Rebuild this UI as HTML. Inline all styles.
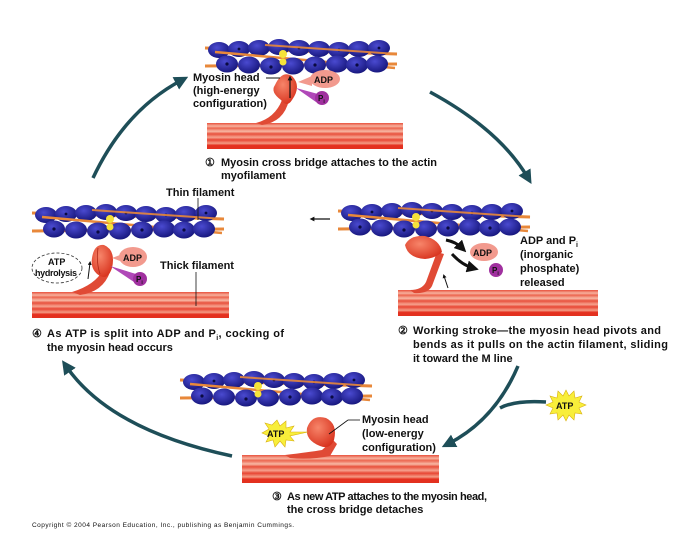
<!DOCTYPE html>
<html><head><meta charset="utf-8"><style>
html,body{margin:0;padding:0;background:#fff}
svg{display:block}
text{font-family:"Liberation Sans",sans-serif;font-weight:bold;fill:#111}
</style></head><body>
<svg width="674" height="548" viewBox="0 0 674 548" xmlns="http://www.w3.org/2000/svg">
<defs>
<radialGradient id="bl" cx="0.4" cy="0.35" r="0.7"><stop offset="0" stop-color="#4a4ad0"/><stop offset="1" stop-color="#15157a"/></radialGradient>
<radialGradient id="hd" cx="0.4" cy="0.35" r="0.7"><stop offset="0" stop-color="#f7856a"/><stop offset="1" stop-color="#d8331e"/></radialGradient>
<linearGradient id="tk" x1="0" y1="0" x2="0" y2="1">
<stop offset="0" stop-color="#e8503c"/><stop offset="0.12" stop-color="#f7b29e"/><stop offset="0.2" stop-color="#ec6650"/><stop offset="0.32" stop-color="#f8b8a4"/><stop offset="0.42" stop-color="#e8503c"/><stop offset="0.55" stop-color="#f6a28e"/><stop offset="0.65" stop-color="#e84634"/><stop offset="0.78" stop-color="#f49a84"/><stop offset="0.86" stop-color="#e5301f"/><stop offset="1" stop-color="#e2311f"/></linearGradient>
<g id="actin">
<line x1="0" y1="8" x2="192" y2="14" stroke="#e8883a" stroke-width="3"/>
<g fill="url(#bl)">
<ellipse cx="14" cy="10" rx="11" ry="8"/><ellipse cx="34" cy="9" rx="11" ry="8"/><ellipse cx="54" cy="8" rx="11" ry="8"/><ellipse cx="74" cy="7" rx="11" ry="8"/><ellipse cx="94" cy="8" rx="11" ry="8"/><ellipse cx="114" cy="9" rx="11" ry="8"/><ellipse cx="134" cy="10" rx="11" ry="8"/><ellipse cx="154" cy="9" rx="11" ry="8"/><ellipse cx="174" cy="8" rx="11" ry="8"/>
</g>
<line x1="0" y1="26" x2="192" y2="24" stroke="#e8883a" stroke-width="3"/>
<line x1="10" y1="12" x2="190" y2="28" stroke="#e8883a" stroke-width="2.5"/>
<g fill="url(#bl)">
<ellipse cx="22" cy="24" rx="11" ry="8.5"/><ellipse cx="44" cy="25" rx="11" ry="8.5"/><ellipse cx="66" cy="26" rx="11" ry="8.5"/><ellipse cx="88" cy="26" rx="11" ry="8.5"/><ellipse cx="110" cy="25" rx="11" ry="8.5"/><ellipse cx="132" cy="24" rx="11" ry="8.5"/><ellipse cx="152" cy="25" rx="11" ry="8.5"/><ellipse cx="172" cy="24" rx="11" ry="8.5"/>
</g>
<g fill="#0a0a40"><circle cx="22" cy="24" r="1.6"/><circle cx="66" cy="27" r="1.6"/><circle cx="110" cy="25" r="1.6"/><circle cx="152" cy="25" r="1.6"/><circle cx="34" cy="9" r="1.4"/><circle cx="94" cy="8" r="1.4"/><circle cx="134" cy="10" r="1.4"/><circle cx="174" cy="8" r="1.4"/></g>
<line x1="60" y1="5" x2="192" y2="14" stroke="#e8883a" stroke-width="2" opacity="0.9"/>
<circle cx="78" cy="14" r="4" fill="#f5e23a"/><circle cx="78" cy="22" r="3.5" fill="#f5e23a"/>
</g>
<marker id="ar" viewBox="0 0 10 10" refX="5" refY="5" markerWidth="4" markerHeight="4" orient="auto"><path d="M0,0L10,5L0,10z" fill="#1e4e58"/></marker>
<marker id="ab" viewBox="0 0 10 10" refX="5" refY="5" markerWidth="4" markerHeight="4" orient="auto"><path d="M0,0L10,5L0,10z" fill="#111"/></marker>
</defs>

<!-- cycle arrows -->
<g fill="none" stroke="#1e4e58" stroke-width="3.5">
<path d="M93,178 Q125,110 182,80" marker-end="url(#ar)"/>
<path d="M430,92 Q500,130 528,178" marker-end="url(#ar)"/>
<path d="M518,366 Q495,420 448,444" marker-end="url(#ar)"/>
<path d="M546,402 Q515,400 500,408"/>
<path d="M232,456 Q110,430 66,366" marker-end="url(#ar)"/>
</g>

<!-- Panel 1 -->
<use href="#actin" transform="translate(205,40)"/>
<rect x="207" y="123" width="196" height="26" fill="url(#tk)"/>
<path d="M256,123 Q275,118 282,100 L289,100 Q284,122 262,125z" fill="#e04a35"/>
<path d="M275,85 Q282,70 292,76 Q302,86 292,100 Q287,108 281,100 Q270,92 275,85z" fill="url(#hd)"/>
<line x1="290" y1="98" x2="290" y2="78" stroke="#111" stroke-width="1.2" marker-end="url(#ab)"/>
<path d="M298,82 L312,76 L312,86z" fill="#f29a8e"/>
<ellipse cx="325" cy="79" rx="15" ry="9" fill="#f29a8e"/><text x="314" y="83" font-size="9">ADP</text>
<path d="M296,88 L318,94 L316,102z" fill="#b048b8"/>
<circle cx="322" cy="98" r="7" fill="#a0309f"/><text x="318" y="101" font-size="8">P<tspan font-size="5" dy="2">i</tspan></text>
<text x="193" y="81" font-size="11">Myosin head</text>
<line x1="266" y1="78" x2="280" y2="78" stroke="#111"/>
<text x="193" y="94" font-size="11">(high-energy</text>
<text x="193" y="107" font-size="11">configuration)</text>
<text x="205" y="166" font-size="11">①</text>
<text x="221" y="166" font-size="11" textLength="216">Myosin cross bridge attaches to the actin</text>
<text x="221" y="179" font-size="11">myofilament</text>

<!-- Panel 4 -->
<use href="#actin" transform="translate(32,205)"/>
<rect x="32" y="292" width="197" height="26" fill="url(#tk)"/>
<path d="M72,292 Q95,285 103,270 L110,272 Q103,292 80,295z" fill="#e04a35"/>
<path d="M92,258 Q94,244 104,245 Q116,250 112,268 Q108,280 100,276 Q90,270 92,258z" fill="url(#hd)"/>
<path d="M98,248 Q96,262 100,274" stroke="#b02818" fill="none" stroke-width="0.8"/>
<path d="M112,258 L128,252 L128,264z" fill="#f29a8e"/>
<ellipse cx="133" cy="257" rx="14" ry="10" fill="#f29a8e"/><text x="123" y="261" font-size="9">ADP</text>
<path d="M110,266 L136,274 L134,282z" fill="#b048b8"/>
<circle cx="140" cy="279" r="7" fill="#a0309f"/><text x="136" y="282" font-size="8">P<tspan font-size="5" dy="2">i</tspan></text>
<ellipse cx="57" cy="268" rx="25" ry="15" fill="none" stroke="#333" stroke-width="0.8" stroke-dasharray="3,2"/>
<text x="48" y="265" font-size="9">ATP</text><text x="35" y="276" font-size="9" textLength="42">hydrolysis</text>
<line x1="88" y1="279" x2="90" y2="263" stroke="#111" stroke-width="1" marker-end="url(#ab)"/>
<text x="160" y="269" font-size="11">Thick filament</text>
<line x1="196" y1="272" x2="196" y2="306" stroke="#111" stroke-width="0.8"/>
<text x="166" y="196" font-size="11">Thin filament</text>
<line x1="198" y1="198" x2="198" y2="220" stroke="#111" stroke-width="0.8"/>
<text x="32" y="337" font-size="11">④</text>
<text x="47" y="337" font-size="11" textLength="237">As ATP is split into ADP and P<tspan font-size="7" dy="3">i</tspan><tspan dy="-3">, cocking of</tspan></text>
<text x="47" y="351" font-size="11">the myosin head occurs</text>

<!-- Panel 2 -->
<use href="#actin" transform="translate(338,203)"/>
<line x1="330" y1="219" x2="312" y2="219" stroke="#111" stroke-width="1.2" marker-end="url(#ab)"/>
<rect x="398" y="290" width="200" height="26" fill="url(#tk)"/>
<path d="M410,290 Q422,290 426,282 L437,252 L444,254 L432,286 Q428,294 414,293z" fill="#e04a35"/>
<path d="M405,245 Q410,235 425,236 Q440,240 442,252 Q436,258 425,259 Q408,258 405,245z" fill="url(#hd)"/>
<path d="M446,240 Q456,242 462,248" stroke="#111" stroke-width="3" fill="none" marker-end="url(#ab)"/>
<path d="M452,254 Q462,265 473,268" stroke="#111" stroke-width="3" fill="none" marker-end="url(#ab)"/>
<ellipse cx="484" cy="252" rx="14" ry="9" fill="#f29a8e"/><text x="473" y="256" font-size="9">ADP</text>
<circle cx="496" cy="270" r="7" fill="#a0309f"/><text x="492" y="273" font-size="8">P<tspan font-size="5" dy="2">i</tspan></text>
<line x1="448" y1="288" x2="444" y2="276" stroke="#111" stroke-width="1" marker-end="url(#ab)"/>
<text x="520" y="244" font-size="11">ADP and P<tspan font-size="7" dy="3">i</tspan></text>
<text x="520" y="258" font-size="11">(inorganic</text>
<text x="520" y="272" font-size="11">phosphate)</text>
<text x="520" y="286" font-size="11">released</text>
<text x="398" y="334" font-size="11">②</text>
<text x="413" y="334" font-size="11" textLength="248">Working stroke—the myosin head pivots and</text>
<text x="413" y="348" font-size="11" textLength="255">bends as it pulls on the actin filament, sliding</text>
<text x="413" y="362" font-size="11">it toward the M line</text>

<!-- Panel 3 -->
<use href="#actin" transform="translate(180,372)"/>
<rect x="242" y="455" width="197" height="28" fill="url(#tk)"/>
<path d="M285,455 Q310,452 322,450 L333,440 L337,444 L330,456 Q310,460 290,458z" fill="#e04a35"/>
<path d="M307,428 Q312,414 326,418 Q338,424 334,440 Q330,450 320,446 Q305,440 307,428z" fill="url(#hd)"/>
<polygon points="277,420 280,426 286,421 286,428 294,426 290,432 308,432 290,436 294,441 286,440 285,447 280,441 275,447 273,440 266,442 269,436 262,433 269,429 265,423 272,425" fill="#f8ee3a" stroke="#d8b010" stroke-width="0.6"/>
<text x="267" y="437" font-size="9">ATP</text>
<line x1="329" y1="434" x2="348" y2="420" stroke="#111" stroke-width="0.8"/><line x1="348" y1="420" x2="360" y2="420" stroke="#111" stroke-width="0.8"/>
<text x="362" y="423" font-size="11">Myosin head</text>
<text x="362" y="437" font-size="11">(low-energy</text>
<text x="362" y="451" font-size="11">configuration)</text>
<polygon points="566,390 569,396 574,391 575,398 582,396 579,402 586,405 579,408 582,414 575,413 574,420 569,415 566,421 563,415 558,420 557,413 550,414 553,408 546,405 553,402 550,396 557,398 558,391 563,396" fill="#f8ee3a" stroke="#d8b010" stroke-width="0.6"/>
<text x="556" y="409" font-size="9">ATP</text>
<text x="272" y="500" font-size="11">③</text>
<text x="287" y="500" font-size="11" textLength="200">As new ATP attaches to the myosin head,</text>
<text x="287" y="513" font-size="11">the cross bridge detaches</text>

<text x="32" y="527" font-size="6.5" font-weight="normal" style="font-weight:normal" fill="#333" textLength="262">Copyright © 2004 Pearson Education, Inc., publishing as Benjamin Cummings.</text>
</svg>
</body></html>
